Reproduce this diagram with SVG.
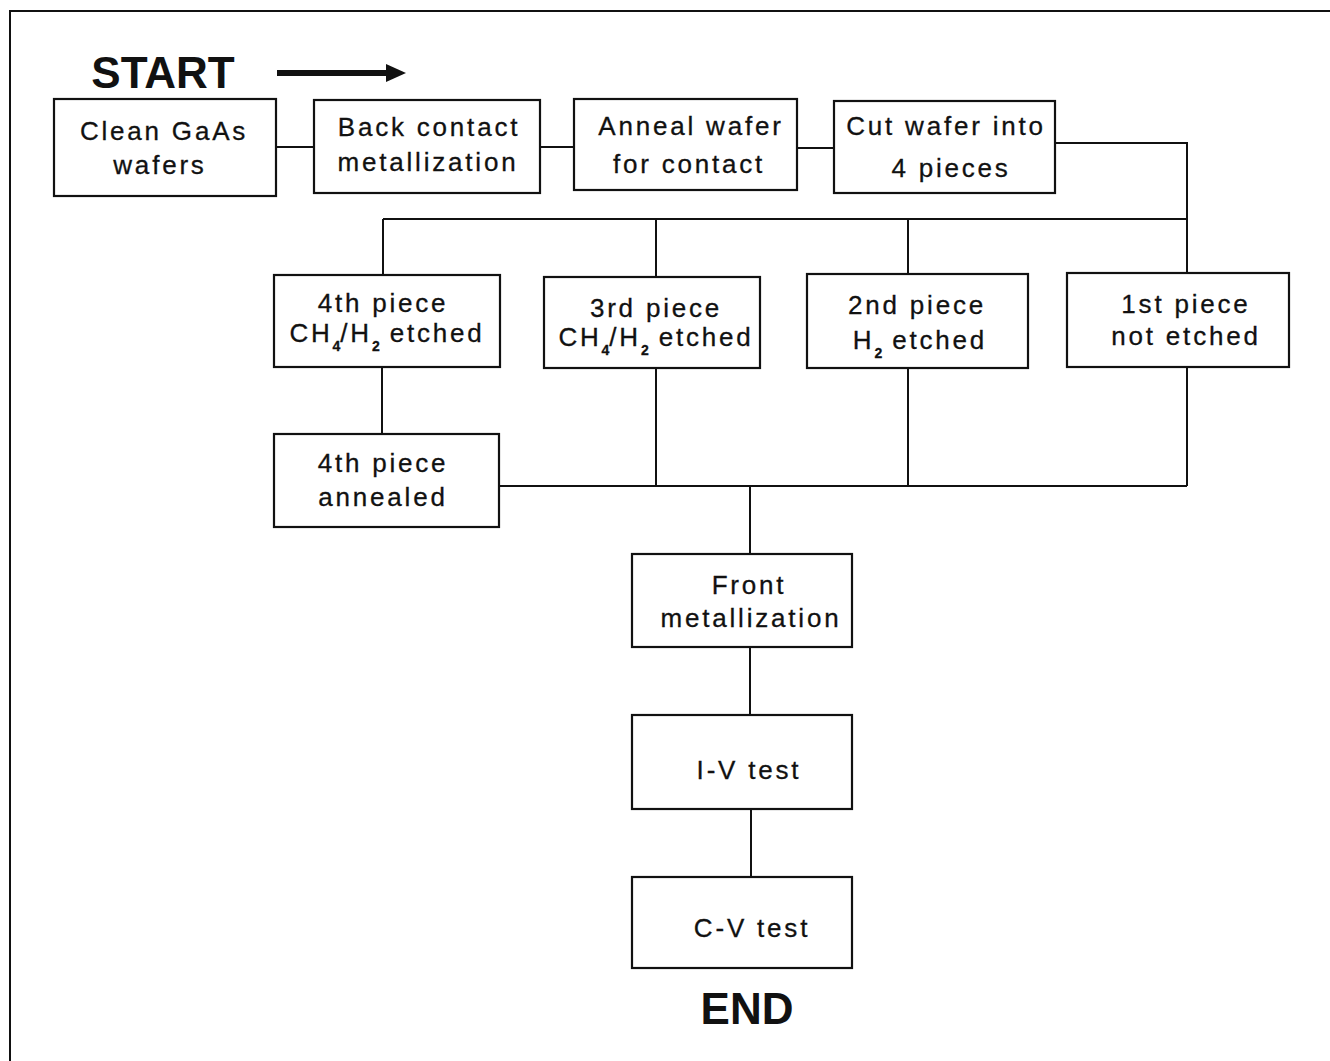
<svg xmlns="http://www.w3.org/2000/svg" width="1330" height="1061" viewBox="0 0 1330 1061">
<style>
.box{fill:#fff;stroke:#111;stroke-width:2.2}
.t{font-family:"Liberation Sans",Arial,sans-serif;font-size:26px;letter-spacing:2.8px;fill:#111;stroke:#111;stroke-width:0.3;text-anchor:middle}
.sub{font-size:14px;font-weight:bold;letter-spacing:0}
.big{font-family:"Liberation Sans",Arial,sans-serif;font-size:44px;font-weight:bold;fill:#111;text-anchor:middle}
.c{fill:none;stroke:#111;stroke-width:2}
</style>
<rect width="1330" height="1061" fill="#fff"/>
<g id="frame">
<path class="c" d="M10,1061 V11 H1330"/>
</g>
<g id="start">
<text class="big" x="163" y="88">START</text>
<line x1="277" y1="73" x2="390" y2="73" stroke="#111" stroke-width="6"/>
<polygon points="386,64 406,73 386,82" fill="#111"/>
</g>
<g id="connectors">
<path class="c" d="M276,147 H314"/>
<path class="c" d="M540,147 H574"/>
<path class="c" d="M797,148 H834"/>
<path class="c" d="M1055,143 H1187 V273"/>
<path class="c" d="M383,219 H1187"/>
<path class="c" d="M383,219 V275"/>
<path class="c" d="M656,219 V277"/>
<path class="c" d="M908,219 V274"/>
<path class="c" d="M382,367 V434"/>
<path class="c" d="M656,368 V486"/>
<path class="c" d="M908,368 V486"/>
<path class="c" d="M1187,367 V486"/>
<path class="c" d="M499,486 H1187"/>
<path class="c" d="M750,486 V554"/>
<path class="c" d="M750,647 V715"/>
<path class="c" d="M751,809 V877"/>
</g>
<g id="clean">
<rect class="box" x="54" y="99" width="222" height="97"/>
<text class="t" x="164" y="140">Clean GaAs</text>
<text class="t" x="160" y="174">wafers</text>
</g>
<g id="back">
<rect class="box" x="314" y="100" width="226" height="93"/>
<text class="t" x="429" y="136">Back contact</text>
<text class="t" x="428" y="171">metallization</text>
</g>
<g id="anneal">
<rect class="box" x="574" y="99" width="223" height="91"/>
<text class="t" x="691" y="135">Anneal wafer</text>
<text class="t" x="689" y="173">for contact</text>
</g>
<g id="cut">
<rect class="box" x="834" y="101" width="221" height="92"/>
<text class="t" x="946" y="135">Cut wafer into</text>
<text class="t" x="951" y="177">4 pieces</text>
</g>
<g id="p4">
<rect class="box" x="274" y="275" width="226" height="92"/>
<text class="t" x="383" y="312">4th piece</text>
<text class="t" x="387" y="342">CH<tspan class="sub" dy="9">4</tspan><tspan dy="-9">/H</tspan><tspan class="sub" dy="9">2</tspan><tspan dy="-9"> etched</tspan></text>
</g>
<g id="p3">
<rect class="box" x="544" y="277" width="216" height="91"/>
<text class="t" x="656" y="317">3rd piece</text>
<text class="t" x="656" y="346">CH<tspan class="sub" dy="9">4</tspan><tspan dy="-9">/H</tspan><tspan class="sub" dy="9">2</tspan><tspan dy="-9"> etched</tspan></text>
</g>
<g id="p2">
<rect class="box" x="807" y="274" width="221" height="94"/>
<text class="t" x="917" y="314">2nd piece</text>
<text class="t" x="920" y="349">H<tspan class="sub" dy="9">2</tspan><tspan dy="-9"> etched</tspan></text>
</g>
<g id="p1">
<rect class="box" x="1067" y="273" width="222" height="94"/>
<text class="t" x="1186" y="313">1st piece</text>
<text class="t" x="1186" y="345">not etched</text>
</g>
<g id="p4a">
<rect class="box" x="274" y="434" width="225" height="93"/>
<text class="t" x="383" y="472">4th piece</text>
<text class="t" x="383" y="506">annealed</text>
</g>
<g id="front">
<rect class="box" x="632" y="554" width="220" height="93"/>
<text class="t" x="749" y="594">Front</text>
<text class="t" x="751" y="627">metallization</text>
</g>
<g id="iv">
<rect class="box" x="632" y="715" width="220" height="94"/>
<text class="t" x="749" y="779">I-V test</text>
</g>
<g id="cv">
<rect class="box" x="632" y="877" width="220" height="91"/>
<text class="t" x="752" y="937">C-V test</text>
</g>
<g id="end">
<text class="big" x="747" y="1024">END</text>
</g>
</svg>
